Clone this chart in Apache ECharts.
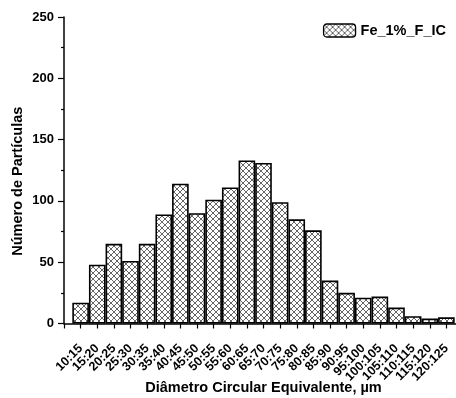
<!DOCTYPE html>
<html>
<head>
<meta charset="utf-8">
<script src="https://cdn.jsdelivr.net/npm/echarts@6/dist/echarts.min.js"></script>
<style>
  html, body { margin: 0; padding: 0; background: #fff; }
  #chart { width: 456px; height: 398px; }
</style>
</head>
<body>
<div id="chart"></div>
<script>
// Size classes of the equivalent circular diameter (µm)
const sizeClasses = ['10:15', '15:20', '20:25', '25:30', '30:35', '35:40', '40:45', '45:50',
  '50:55', '55:60', '60:65', '65:70', '70:75', '75:80', '80:85', '85:90', '90:95',
  '95:100', '100:105', '105:110', '110:115', '115:120', '120:125'];
// Particle counts per class
const particleCounts = [17, 48, 65, 51, 65, 89, 114, 90, 101, 111, 133, 131, 99, 85, 76,
  35, 25, 21, 22, 13, 6, 4, 5];
const seriesName = 'Fe_1%_F_IC';

// Crosshatch fill tile
function crosshatch() {
  const s = 6;
  const c = document.createElement('canvas');
  c.width = s; c.height = s;
  const g = c.getContext('2d');
  g.fillStyle = '#fff';
  g.fillRect(0, 0, s, s);
  g.strokeStyle = '#555';
  g.lineWidth = 0.9;
  g.beginPath();
  g.moveTo(0, 0); g.lineTo(s, s);
  g.moveTo(s, 0); g.lineTo(0, s);
  g.stroke();
  return { image: c, repeat: 'repeat' };
}

// Category slots: empty slot at the origin, classes, then one trailing slot
const axisCats = [''].concat(sizeClasses, ['']);
const barData = [null].concat(particleCounts, [null]);

const font = 'Liberation Sans, Arial, sans-serif';
const chart = echarts.init(document.getElementById('chart'));
chart.setOption({
  animation: false,
  grid: { left: 64, right: -7, top: 17, bottom: 74.5, containLabel: false, outerBoundsMode: 'none' },
  legend: {
    right: 5, top: 18,
    itemWidth: 32, itemHeight: 13, itemGap: 7,
    textStyle: { fontFamily: font, fontWeight: 'bold', fontSize: 14.5, color: '#000' },
    data: [{ name: seriesName, itemStyle: { color: crosshatch(), borderColor: '#000', borderWidth: 1.3 } }]
  },
  xAxis: {
    type: 'category',
    data: axisCats,
    boundaryGap: false,
    name: 'Diâmetro Circular Equivalente, µm',
    nameLocation: 'middle',
    nameGap: 57,
    nameMoveOverlap: false,
    nameTextStyle: { fontFamily: font, fontWeight: 'bold', fontSize: 14.5, color: '#000' },
    axisLine: { lineStyle: { color: '#000', width: 1.5 } },
    axisTick: { show: true, inside: false, length: 5, interval: 0, lineStyle: { color: '#000', width: 1.2 } },
    axisLabel: { interval: 0, rotate: 45, fontFamily: font, fontWeight: 'bold', fontSize: 12.5, color: '#000', margin: 23, hideOverlap: false },
    splitLine: { show: false }
  },
  yAxis: {
    type: 'value',
    min: 0, max: 250, interval: 50,
    name: 'Número de Partículas',
    nameLocation: 'middle',
    nameGap: 39,
    nameMoveOverlap: false,
    nameTextStyle: { fontFamily: font, fontWeight: 'bold', fontSize: 14.5, color: '#000', padding: [0, 0, 0, -22] },
    axisLine: { show: true, lineStyle: { color: '#000', width: 1.5 } },
    axisTick: { show: true, inside: false, length: 6, lineStyle: { color: '#000', width: 1.2 } },
    minorTick: { show: true, splitNumber: 2, length: 3, lineStyle: { color: '#000', width: 1.2 } },
    axisLabel: { fontFamily: font, fontWeight: 'bold', fontSize: 13, color: '#000', margin: 10 },
    splitLine: { show: false }
  },
  series: [{
    name: seriesName,
    type: 'bar',
    data: barData,
    barWidth: '100%',
    itemStyle: { color: crosshatch(), borderColor: '#000', borderWidth: 1.6 }
  }]
});
</script>
</body>
</html>
